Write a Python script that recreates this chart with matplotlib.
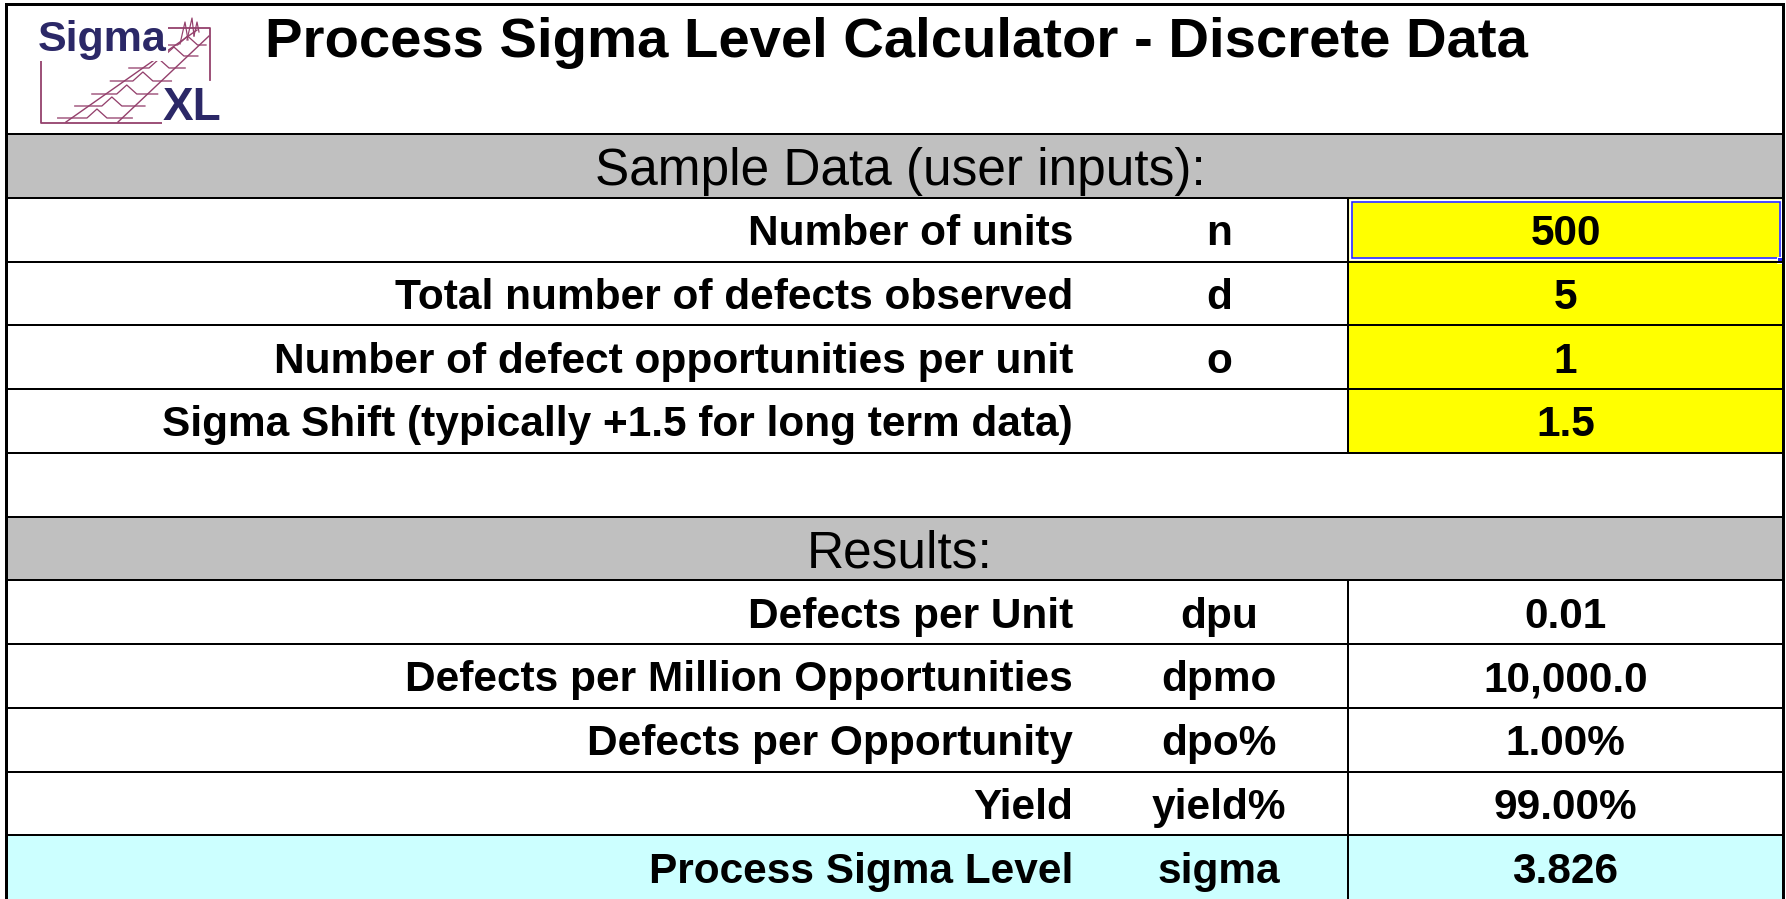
import numpy as np
import matplotlib.pyplot as plt
from matplotlib.patches import Rectangle

# table contents
title = "Process Sigma Level Calculator - Discrete Data"
input_header = "Sample Data (user inputs):"
result_header = "Results:"

input_labels = ["Number of units",
                "Total number of defects observed",
                "Number of defect opportunities per unit",
                "Sigma Shift (typically +1.5 for long term data)"]
input_symbols = ["n", "d", "o", ""]
input_values = ["500", "5", "1", "1.5"]

result_labels = ["Defects per Unit",
                 "Defects per Million Opportunities",
                 "Defects per Opportunity",
                 "Yield",
                 "Process Sigma Level"]
result_symbols = ["dpu", "dpmo", "dpo%", "yield%", "sigma"]
result_values = ["0.01", "10,000.0", "1.00%", "99.00%", "3.826"]

#layout in pixels
W, H = 1786, 899
left, right = 6, 1783
top = 4
head_bottom = 134
row_h = (H - head_bottom) / 12
label_x = 1073
symbol_x = 1219
value_left = 1348
value_x = (value_left + right) / 2
mid_x = 900

gray = "#C0C0C0"
yellow = "#FFFF00"
cyan = "#CCFFFF"
maroon = "#94406C"
navy = "#2B2867"

px = 0.72  # one pixel in points at dpi 100

fig = plt.figure(figsize=(W / 100, H / 100), dpi=100)
ax = fig.add_axes([0, 0, 1, 1])
ax.set_xlim(0, W)
ax.set_ylim(H, 0)
ax.axis("off")

fam = ["Liberation Sans", "DejaVu Sans"]
narrow = ["Liberation Sans Narrow", "Liberation Sans"]
bold_size = 30.5
head_size = 37


def row_top(i):
    return head_bottom + i * row_h


# rows: 0 header, 1-4 inputs, 5 empty, 6 header, 7-11 results
ax.add_patch(Rectangle((left, row_top(0)), right - left, row_h, color=gray, lw=0))
ax.add_patch(Rectangle((left, row_top(6)), right - left, row_h, color=gray, lw=0))
for i in range(len(input_values)):
    ax.add_patch(Rectangle((value_left, row_top(1 + i)), right - value_left, row_h,
                           color=yellow, lw=0))
ax.add_patch(Rectangle((left, row_top(11)), right - left, row_h, color=cyan, lw=0))

# grid lines
for i in range(12):
    ax.plot([left, right], [row_top(i), row_top(i)], color="black", lw=2 * px,
            solid_capstyle="butt")
ax.plot([value_left, value_left], [row_top(1), row_top(5)], color="black", lw=2 * px)
ax.plot([value_left, value_left], [row_top(7), H], color="black", lw=2 * px)

# outer frame
ax.plot([left, left], [top, H], color="black", lw=3 * px)
ax.plot([right, right], [top, H], color="black", lw=3 * px)
ax.plot([left, right], [top, top], color="black", lw=3 * px)

# selected cell (500)
ax.add_patch(Rectangle((value_left + 3, row_top(1) + 3), right - value_left - 5, row_h - 6,
                       fill=False, edgecolor="white", lw=3.5 * px))
ax.add_patch(Rectangle((value_left + 4, row_top(1) + 4), right - value_left - 7, row_h - 8,
                       fill=False, edgecolor="#2020FF", lw=1.6 * px))
ax.add_patch(Rectangle((right - 6, row_top(2) - 5), 6, 6, facecolor="#2020FF",
                       edgecolor="white", lw=1 * px))

# title
ax.text(265, 57, title, fontsize=40.5, fontweight="bold", family=fam,
        ha="left", va="baseline")

# section headers
ax.text(mid_x, row_top(0) + row_h / 2, input_header, fontsize=head_size, family=fam,
        ha="center", va="center_baseline")
ax.text(mid_x, row_top(6) + row_h / 2, result_header, fontsize=head_size, family=fam,
        ha="center", va="center_baseline")


def put_row(i, label, sym, val):
    y = row_top(i) + row_h / 2
    kw = dict(fontsize=bold_size, fontweight="bold", family=fam, va="center_baseline")
    ax.text(label_x, y, label, ha="right", **kw)
    ax.text(symbol_x, y, sym, ha="center", **kw)
    ax.text(value_x, y, val, ha="center", **kw)


for i in range(len(input_labels)):
    put_row(1 + i, input_labels[i], input_symbols[i], input_values[i])
for i in range(len(result_labels)):
    put_row(7 + i, result_labels[i], result_symbols[i], result_values[i])

# SigmaXL logo (box, ladder of little bell curves, text)
ax.plot([142, 210, 210], [28, 28, 80], color=maroon, lw=1.8 * px)
ax.plot([41, 41, 162], [56, 123, 123], color=maroon, lw=1.8 * px)
ax.plot([66, 197], [122, 30], color=maroon, lw=1.4 * px)
ax.plot([118, 209], [122, 36], color=maroon, lw=1.4 * px)


def diag_a(y):
    return 66 + (122 - y) * 131 / 92


def diag_b(y):
    return 118 + (122 - y) * 91 / 86


rungs_y = [118, 106, 94, 81, 68, 56, 45]
for ry in rungs_y:
    xa, xb = diag_a(ry), diag_b(ry)
    xm = (xa + xb) / 2
    ax.plot([xa - 14, xm - 10, xm, xm + 10, min(xb + 10, 206)],
            [ry, ry, ry - 9, ry, ry], color=maroon, lw=1.3 * px)
ax.plot([180, 185, 188], [44, 22, 40], color=maroon, lw=1.2 * px)
ax.plot([187, 192, 194], [40, 18, 36], color=maroon, lw=1.2 * px)
ax.plot([194, 197, 199], [36, 22, 32], color=maroon, lw=1.2 * px)
ax.text(38, 51, "Sigma", fontsize=31, fontweight="bold", color=navy,
        family=narrow, ha="left", va="baseline",
        bbox=dict(facecolor="white", edgecolor="none", pad=0.5))
ax.text(163, 120, "XL", fontsize=33, fontweight="bold", color=navy,
        family=narrow, ha="left", va="baseline",
        bbox=dict(facecolor="white", edgecolor="none", pad=0.5))

fig.savefig("out.png", dpi=100)
